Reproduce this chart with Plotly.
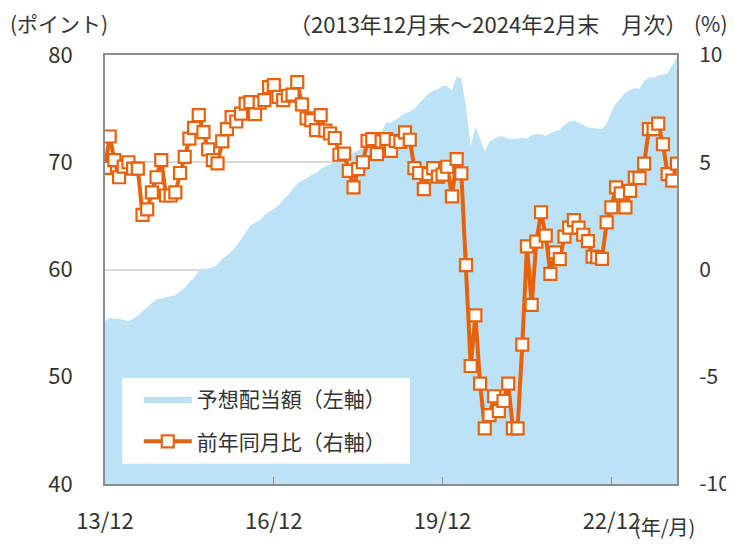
import plotly.graph_objects as go

# ---- data ----
start_year, start_month, n_months = 2013, 12, 123
months = []
y_, m_ = start_year, start_month
for _ in range(n_months):
    months.append(f"{y_}/{m_:02d}")
    m_ += 1
    if m_ > 12:
        m_ = 1
        y_ += 1

dividend_index = [
    55.2, 55.5, 55.4, 55.4, 55.3, 55.2, 55.4, 55.7, 56.1, 56.5,
    56.9, 57.2, 57.3, 57.4, 57.5, 57.6, 57.95, 58.3, 58.8, 59.2,
    59.9, 60.0, 60.1, 60.2, 60.5, 61.0, 61.3, 61.7, 62.2, 62.8,
    63.5, 64.1, 64.35, 64.6, 65.05, 65.4, 65.65, 66.0, 66.5, 66.9,
    67.5, 68.0, 68.3, 68.5, 68.8, 69.0, 69.4, 69.6, 69.8, 70.0,
    70.2, 70.4, 70.6, 70.9, 71.1, 71.3, 71.7, 72.1, 72.3, 72.9,
    73.7, 73.7, 73.95, 74.3, 74.6, 74.7, 75.0, 75.5, 76.0, 76.4,
    76.65, 76.8, 77.1, 77.1, 76.7, 78.0, 77.8, 75.1, 71.5, 73.3,
    72.2, 71.0, 71.9, 72.2, 72.4, 72.4, 72.2, 72.2, 72.2, 72.3,
    72.2, 72.5, 72.6, 72.6, 72.45, 72.7, 72.9, 73.0, 73.5, 73.8,
    73.9, 73.7, 73.5, 73.25, 73.2, 73.15, 73.1, 73.6, 74.7, 75.5,
    76.0, 76.5, 76.75, 76.9, 76.85, 77.6, 77.9, 77.9, 78.1, 78.15,
    78.3, 79.0, 79.8,
]

yoy_change = [
    4.74, 6.2, 5.1, 4.3, 4.8, 5.0, 4.7, 4.7, 2.55, 2.8,
    3.6, 4.3, 5.1, 3.45, 3.45, 3.6, 4.5, 5.25, 6.1, 6.6,
    7.2, 6.4, 5.6, 5.1, 4.95, 5.97, 6.54, 7.1, 6.9, 7.27,
    7.73, 7.8, 7.24, 7.78, 7.9, 8.5, 8.6, 8.05, 7.9, 8.1,
    8.15, 8.74, 7.7, 7.05, 6.96, 6.5, 7.2, 6.47, 6.34, 6.13,
    5.35, 5.4, 4.6, 3.83, 4.68, 5.0, 6.0, 6.08, 5.38, 5.97,
    6.08, 5.53, 6.0, 5.95, 6.39, 6.05, 4.73, 4.5, 3.75, 4.45,
    4.73, 4.33, 4.42, 4.79, 3.41, 5.15, 4.48, 0.2, -4.5, -2.14,
    -5.32, -7.41, -6.79, -5.91, -6.6, -6.13, -5.32, -7.41, -7.41, -3.5,
    1.08, -1.65, 1.3, 2.67, 1.58, -0.2, 0.8, 0.48, 1.53, 1.95,
    2.3, 1.95, 1.62, 1.32, 0.6, 0.57, 0.5, 2.2, 2.9, 3.83,
    3.55, 2.9, 3.67, 4.28, 4.26, 4.94, 6.54, 6.54, 6.8, 5.84,
    4.45, 4.14, 4.94,
]

tick_months = ["2013/12", "2016/12", "2019/12", "2022/12"]
tick_labels = ["13/12", "16/12", "19/12", "22/12"]
left_ticks = [40, 50, 60, 70, 80]
right_ticks = [-10, -5, 0, 5, 10]
right_tick_labels = ["-10", "-5", "0", "5", "10"]

FONT = "Noto Sans CJK JP"
AREA_COLOR = "#BDE2F6"
LINE_COLOR = "#E8620C"
AXIS_COLOR = "#8C8C8C"
TEXT_COLOR = "#333333"
NUM_SIZE = 22
TXT_SIZE = 21

fig = go.Figure()
fig.add_trace(go.Scatter(
    x=months, y=dividend_index, name="予想配当額（左軸）",
    mode="lines", fill="tozeroy", fillcolor=AREA_COLOR,
    line=dict(width=0, color=AREA_COLOR), yaxis="y",
    legendgroup="a",
))
fig.add_trace(go.Scatter(
    x=months, y=yoy_change, name="前年同月比（右軸）",
    mode="lines+markers", yaxis="y2",
    line=dict(color=LINE_COLOR, width=4),
    marker=dict(symbol="square", size=12, color="white",
                line=dict(color=LINE_COLOR, width=2.2)),
    legendgroup="b",
))

# page body adds an 8px offset, so the figure is sized to fit the window
fig.update_layout(
    width=726, height=536,
    margin=dict(l=97, r=57, t=47, b=60),
    paper_bgcolor="white", plot_bgcolor="white",
    font=dict(family=FONT, size=TXT_SIZE, color=TEXT_COLOR),
    showlegend=True,
    legend=dict(x=0.059, y=0.245, xanchor="left", yanchor="top",
                bgcolor="rgba(0,0,0,0)", font=dict(size=TXT_SIZE, color=TEXT_COLOR),
                traceorder="grouped", tracegroupgap=12, itemwidth=48),
    xaxis=dict(type="category", range=[0, len(months) - 1],
               tickmode="array", tickvals=tick_months, ticktext=tick_labels,
               ticks="inside", ticklen=7, tickcolor=AXIS_COLOR, tickwidth=1,
               showline=True, linecolor=AXIS_COLOR, linewidth=2, mirror=True,
               showgrid=False, ticklabelstandoff=17, automargin=False,
               tickfont=dict(size=NUM_SIZE)),
    yaxis=dict(range=[40, 80], tickvals=left_ticks, showgrid=True,
               gridcolor="#D9D9D9", gridwidth=1.5, zeroline=False,
               showline=True, linecolor=AXIS_COLOR, linewidth=2,
               ticks="", ticklabelstandoff=26, automargin=False,
               tickfont=dict(size=NUM_SIZE)),
    yaxis2=dict(range=[-10, 10], tickvals=right_ticks, ticktext=right_tick_labels,
                overlaying="y", side="right", showgrid=False, zeroline=False,
                showline=True, linecolor=AXIS_COLOR, linewidth=2,
                ticks="", ticklabelstandoff=16, automargin=False,
                tickfont=dict(size=21)),
)

# legend background box
fig.add_shape(type="rect", xref="paper", yref="paper",
              x0=0.03, x1=0.533, y0=0.047, y1=0.247,
              fillcolor="white", line=dict(width=0), layer="above")

annots = [
    dict(text="(ポイント)", x=-0.17, y=1.075, xanchor="left", size=TXT_SIZE),
    dict(text="（2013年12月末～2024年2月末　月次）", x=1.021, y=1.075,
         xanchor="right", size=22),
    dict(text="(%)", x=1.026, y=1.075, xanchor="left", size=TXT_SIZE),
    dict(text="(年/月)", x=0.922, y=-0.099, xanchor="left", size=20),
]
for a in annots:
    sz = a.pop("size")
    fig.add_annotation(xref="paper", yref="paper", showarrow=False,
                       yanchor="middle", font=dict(size=sz, color=TEXT_COLOR), **a)

fig.write_html("out.html")
